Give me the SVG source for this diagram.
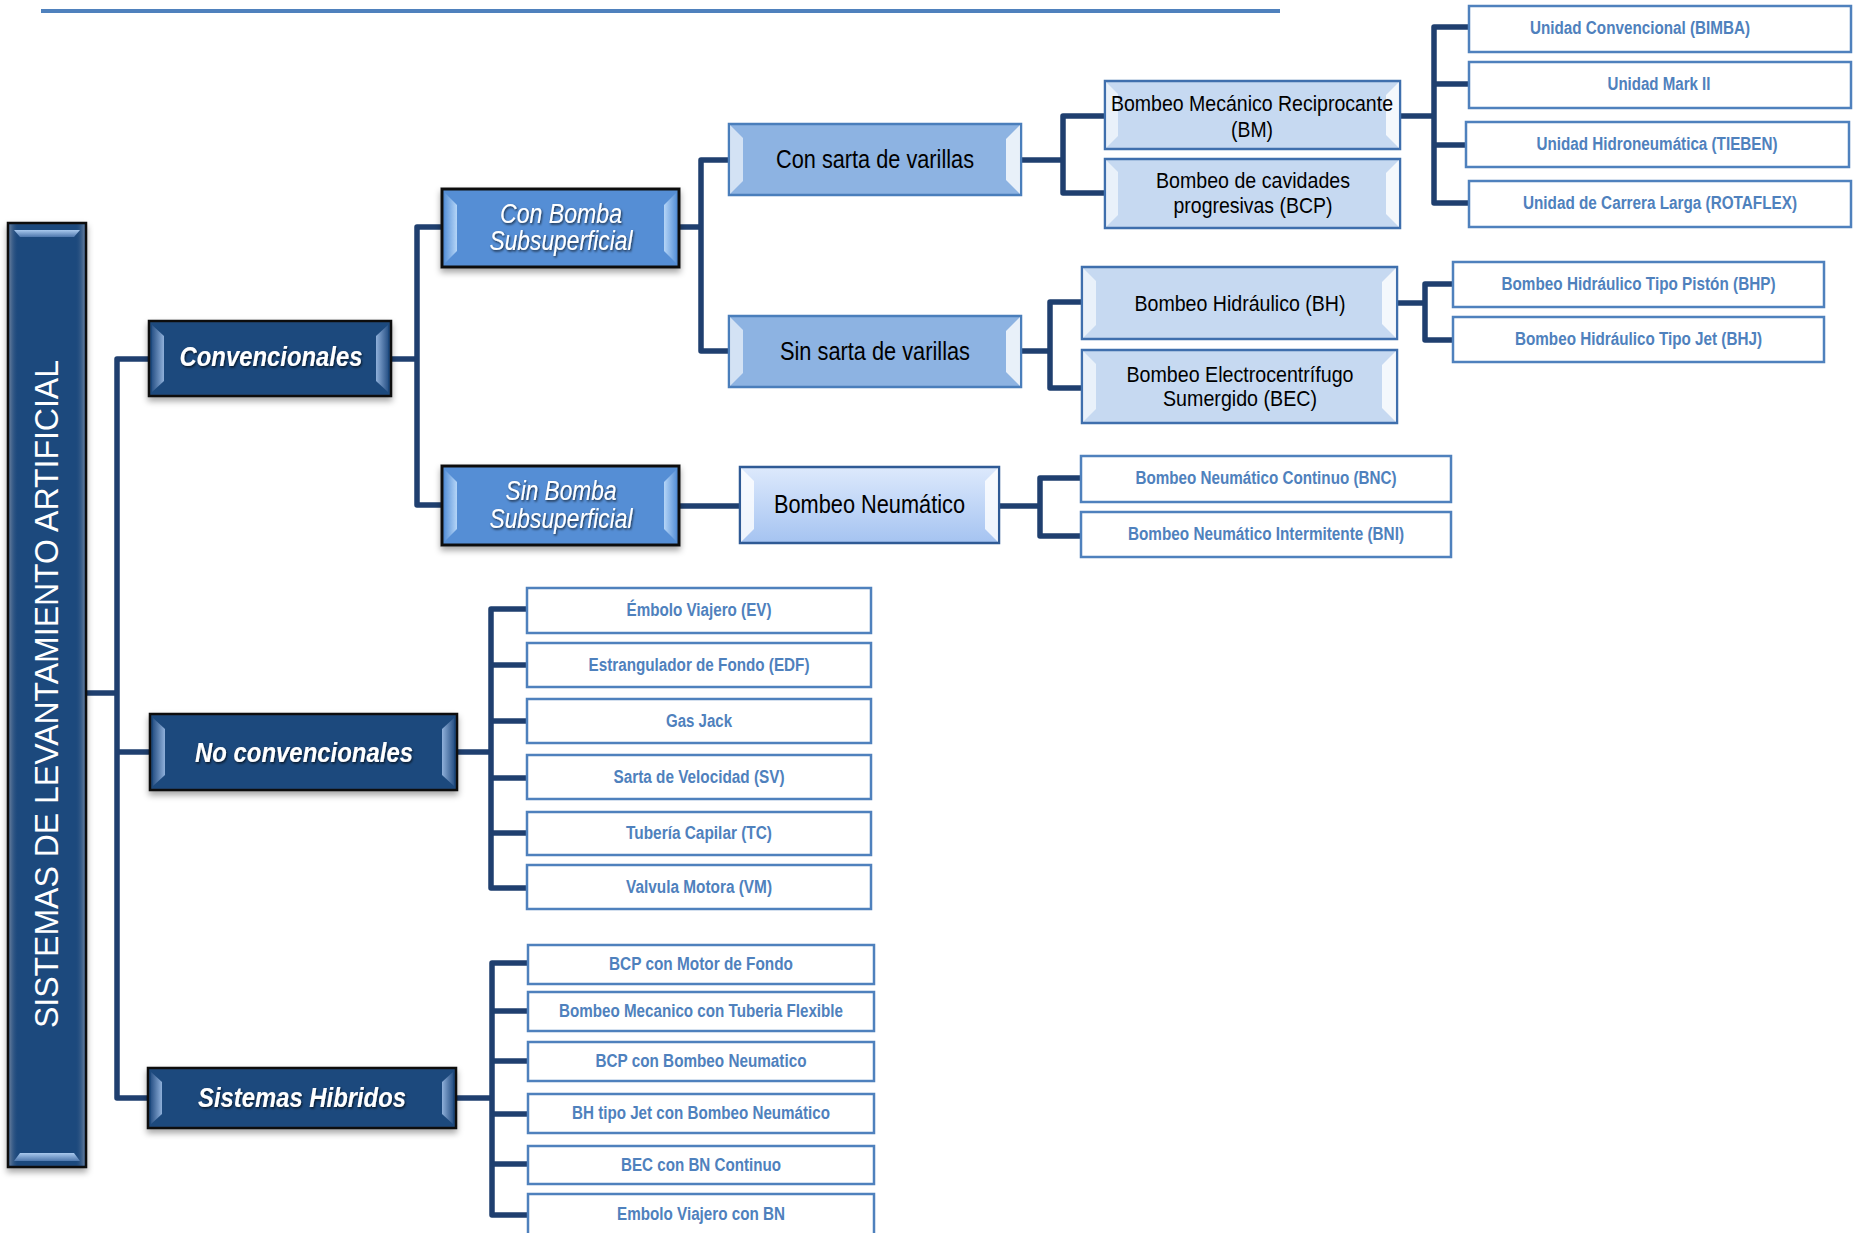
<svg xmlns="http://www.w3.org/2000/svg" width="1853" height="1233" viewBox="0 0 1853 1233">
<defs>
<style>
.nf{font-family:'Liberation Sans Narrow','Arial Narrow','Liberation Sans',Arial,sans-serif}
.conn path{fill:none;stroke:#1F3F6F;stroke-width:5.5;stroke-linejoin:round;stroke-linecap:butt}
.leaf rect{fill:#fff;stroke:#4F81BD;stroke-width:2.5}
.leaf text{font-family:'Liberation Sans Narrow','Arial Narrow','Liberation Sans',Arial,sans-serif;font-weight:bold;font-size:18px;fill:#4F81BD;text-anchor:middle}
.dark rect{fill:#1F497D;stroke:#111;stroke-width:2.5}
.dark text{font-family:'Liberation Sans Narrow','Arial Narrow','Liberation Sans',Arial,sans-serif;font-weight:bold;font-style:italic;font-size:28px;fill:#fff;text-anchor:middle}
.mid rect{fill:#558ED5;stroke:#111;stroke-width:3}
.mid text{font-family:'Liberation Sans Narrow','Arial Narrow','Liberation Sans',Arial,sans-serif;font-style:italic;font-size:27px;fill:#fff;text-anchor:middle}
.sarta rect{fill:#8DB3E2;stroke:#4A7EBB;stroke-width:2.5}
.sarta text{font-family:'Liberation Sans Narrow','Arial Narrow','Liberation Sans',Arial,sans-serif;font-size:26px;fill:#000;text-anchor:middle}
.pale rect{fill:#C6D9F1;stroke:#3F6FAD;stroke-width:2.5}
.pale text{font-family:'Liberation Sans Narrow','Arial Narrow','Liberation Sans',Arial,sans-serif;font-size:22.5px;fill:#000;text-anchor:middle}
.bn rect{fill:url(#gBN);stroke:#2F5A95;stroke-width:2.5}
.bn text{font-family:'Liberation Sans Narrow','Arial Narrow','Liberation Sans',Arial,sans-serif;font-size:25px;fill:#000;text-anchor:middle}
.fl{fill:url(#gFaceL)}
.fr{fill:url(#gFaceR)}
.wf{fill:#fff;opacity:0.62}
.wf2{fill:#fff;opacity:0.8}
.mfl{fill:url(#gMidL)}
.mfr{fill:url(#gMidR)}
</style>
<linearGradient id="gBN" x1="0" y1="0" x2="0" y2="1">
<stop offset="0" stop-color="#DDE9FC"/>
<stop offset="1" stop-color="#A5C3F1"/>
</linearGradient>
<linearGradient id="gFaceL" x1="0" y1="0" x2="1" y2="0">
<stop offset="0" stop-color="#2B5488"/>
<stop offset="1" stop-color="#8FB0DA"/>
</linearGradient>
<linearGradient id="gFaceR" x1="0" y1="0" x2="1" y2="0">
<stop offset="0" stop-color="#8FB0DA"/>
<stop offset="1" stop-color="#2B5488"/>
</linearGradient>
<linearGradient id="gMidL" x1="0" y1="0" x2="1" y2="0">
<stop offset="0" stop-color="#5E96DA"/>
<stop offset="1" stop-color="#B5D5F7"/>
</linearGradient>
<linearGradient id="gMidR" x1="0" y1="0" x2="1" y2="0">
<stop offset="0" stop-color="#B5D5F7"/>
<stop offset="1" stop-color="#5E96DA"/>
</linearGradient>
<linearGradient id="gTop" x1="0" y1="0" x2="0" y2="1">
<stop offset="0" stop-color="#A9C9EE"/>
<stop offset="1" stop-color="#4F78AD"/>
</linearGradient>
<linearGradient id="gRootEdge" x1="0" y1="0" x2="1" y2="0">
<stop offset="0" stop-color="#7F8FA6" stop-opacity="0.7"/>
<stop offset="0.12" stop-color="#1F497D" stop-opacity="0"/>
<stop offset="0.88" stop-color="#1F497D" stop-opacity="0"/>
<stop offset="1" stop-color="#7F8FA6" stop-opacity="0.7"/>
</linearGradient>
<filter id="shadow" x="-10%" y="-10%" width="120%" height="130%">
<feDropShadow dx="0" dy="4" stdDeviation="3" flood-color="#000" flood-opacity="0.35"/>
</filter>
<filter id="tshadow" x="-5%" y="-20%" width="110%" height="150%">
<feDropShadow dx="1" dy="1.5" stdDeviation="0.8" flood-color="#000" flood-opacity="0.7"/>
</filter>
</defs>

<rect x="0" y="0" width="1853" height="1233" fill="#fff"/>
<line x1="41" y1="11" x2="1280" y2="11" stroke="#4F81BD" stroke-width="4"/>

<g class="conn" id="connectors">
<path d="M85,693 H117"/>
<path d="M150,359 H117 V1098 H148"/>
<path d="M117,752 H150"/>
<path d="M391,359 H417"/>
<path d="M442,227 H417 V505 H442"/>
<path d="M679,227 H701"/>
<path d="M729,160 H701 V351 H729"/>
<path d="M1021,160 H1063"/>
<path d="M1105,116 H1063 V193 H1105"/>
<path d="M1021,351 H1050"/>
<path d="M1082,302 H1050 V388 H1082"/>
<path d="M1400,116 H1434"/>
<path d="M1469,27 H1434 V203 H1469"/>
<path d="M1434,84 H1469"/>
<path d="M1434,145 H1466"/>
<path d="M1397,303 H1425"/>
<path d="M1453,284 H1425 V340 H1453"/>
<path d="M679,506 H740"/>
<path d="M999,506 H1040"/>
<path d="M1081,478 H1040 V536 H1081"/>
<path d="M457,752 H491"/>
<path d="M527,609 H491 V888 H527"/>
<path d="M491,665 H527"/>
<path d="M491,721 H527"/>
<path d="M491,778 H527"/>
<path d="M491,833 H527"/>
<path d="M456,1098 H492"/>
<path d="M528,963 H492 V1215 H528"/>
<path d="M492,1011 H528"/>
<path d="M492,1061 H528"/>
<path d="M492,1114 H528"/>
<path d="M492,1164 H528"/>
</g>

<g id="root">
<rect x="8" y="223" width="78" height="944" fill="#1F497D" stroke="#111" stroke-width="2.5" filter="url(#shadow)"/>
<rect x="9.5" y="224.5" width="75" height="941" fill="url(#gRootEdge)"/>
<polygon points="14,230 80,230 74,237 20,237" fill="url(#gTop)"/>
<polygon points="20,1153 74,1153 80,1161 14,1161" fill="url(#gTop)"/>
<text class="nf" transform="translate(58,694) rotate(-90)" font-size="34" fill="#fff" text-anchor="middle" textLength="668" lengthAdjust="spacingAndGlyphs">SISTEMAS DE LEVANTAMIENTO ARTIFICIAL</text>
</g>

<g id="convencionales" class="dark">
<rect x="149" y="321" width="242" height="75" filter="url(#shadow)"/>
<polygon class="fl" points="152,325 164,336 164,381 152,392"/>
<polygon class="fr" points="388,325 376,336 376,381 388,392"/>
<text x="271" y="366" textLength="183" lengthAdjust="spacingAndGlyphs" filter="url(#tshadow)">Convencionales</text>
</g>

<g id="no-convencionales" class="dark">
<rect x="150" y="714" width="307" height="76" filter="url(#shadow)"/>
<polygon class="fl" points="153,718 165,729 165,775 153,786"/>
<polygon class="fr" points="454,718 442,729 442,775 454,786"/>
<text x="304" y="762" textLength="218" lengthAdjust="spacingAndGlyphs" filter="url(#tshadow)">No convencionales</text>
</g>

<g id="sistemas-hibridos" class="dark">
<rect x="148" y="1068" width="308" height="60" filter="url(#shadow)"/>
<polygon class="fl" points="151,1072 162,1082 162,1114 151,1124"/>
<polygon class="fr" points="453,1072 442,1082 442,1114 453,1124"/>
<text x="302" y="1107" textLength="208" lengthAdjust="spacingAndGlyphs" filter="url(#tshadow)">Sistemas Hibridos</text>
</g>

<g id="con-bomba" class="mid">
<rect x="442" y="189" width="237" height="78" filter="url(#shadow)"/>
<polygon class="mfl" points="445,193 457,205 457,251 445,263"/>
<polygon class="mfr" points="676,193 664,205 664,251 676,263"/>
<text x="561" y="223" textLength="122" lengthAdjust="spacingAndGlyphs" filter="url(#tshadow)">Con Bomba</text>
<text x="561" y="250" textLength="143" lengthAdjust="spacingAndGlyphs" filter="url(#tshadow)">Subsuperficial</text>
</g>

<g id="sin-bomba" class="mid">
<rect x="442" y="466" width="237" height="79" filter="url(#shadow)"/>
<polygon class="mfl" points="445,470 457,482 457,529 445,541"/>
<polygon class="mfr" points="676,470 664,482 664,529 676,541"/>
<text x="561" y="500" textLength="111" lengthAdjust="spacingAndGlyphs" filter="url(#tshadow)">Sin Bomba</text>
<text x="561" y="528" textLength="143" lengthAdjust="spacingAndGlyphs" filter="url(#tshadow)">Subsuperficial</text>
</g>

<g id="con-sarta" class="sarta">
<rect x="729" y="124" width="292" height="71"/>
<polygon class="wf" points="730,125 743,138 743,181 730,194"/>
<polygon class="wf2" points="1020,125 1006,139 1006,180 1020,194"/>
<text x="875" y="168" textLength="198" lengthAdjust="spacingAndGlyphs">Con sarta de varillas</text>
</g>

<g id="sin-sarta" class="sarta">
<rect x="729" y="316" width="292" height="71"/>
<polygon class="wf" points="730,317 743,330 743,373 730,386"/>
<polygon class="wf2" points="1020,317 1006,331 1006,372 1020,386"/>
<text x="875" y="360" textLength="190" lengthAdjust="spacingAndGlyphs">Sin sarta de varillas</text>
</g>

<g id="bm" class="pale">
<rect x="1105" y="81" width="295" height="68"/>
<polygon class="wf" points="1106,82 1118,94 1118,136 1106,148"/>
<polygon class="wf2" points="1399,82 1386,95 1386,135 1399,148"/>
<text x="1252" y="111" textLength="282" lengthAdjust="spacingAndGlyphs">Bombeo Mecánico Reciprocante</text>
<text x="1252" y="136.5" textLength="42" lengthAdjust="spacingAndGlyphs">(BM)</text>
</g>

<g id="bcp" class="pale">
<rect x="1105" y="159" width="295" height="69"/>
<polygon class="wf" points="1106,160 1118,172 1118,215 1106,227"/>
<polygon class="wf2" points="1399,160 1386,173 1386,214 1399,227"/>
<text x="1253" y="187.5" textLength="194" lengthAdjust="spacingAndGlyphs">Bombeo de cavidades</text>
<text x="1253" y="212.5" textLength="159" lengthAdjust="spacingAndGlyphs">progresivas (BCP)</text>
</g>

<g id="bh" class="pale">
<rect x="1082" y="267" width="315" height="72"/>
<polygon class="wf" points="1083,268 1096,281 1096,325 1083,338"/>
<polygon class="wf2" points="1396,268 1382,282 1382,324 1396,338"/>
<text x="1240" y="310.5" textLength="211" lengthAdjust="spacingAndGlyphs">Bombeo Hidráulico (BH)</text>
</g>

<g id="bec" class="pale">
<rect x="1082" y="350" width="315" height="73"/>
<polygon class="wf" points="1083,351 1096,364 1096,409 1083,422"/>
<polygon class="wf2" points="1396,351 1382,365 1382,408 1396,422"/>
<text x="1240" y="381.5" textLength="227" lengthAdjust="spacingAndGlyphs">Bombeo Electrocentrífugo</text>
<text x="1240" y="405.5" textLength="154" lengthAdjust="spacingAndGlyphs">Sumergido (BEC)</text>
</g>

<g id="bombeo-neumatico" class="bn">
<rect x="740" y="467" width="259" height="76"/>
<polygon class="wf2" points="741,468 754,481 754,529 741,542"/>
<polygon class="wf2" points="998,468 985,481 985,529 998,542"/>
<text x="869.5" y="513" textLength="191" lengthAdjust="spacingAndGlyphs">Bombeo Neumático</text>
</g>

<g id="bimba" class="leaf"><rect x="1469" y="6" width="382" height="46"/><text x="1640" y="34" textLength="220" lengthAdjust="spacingAndGlyphs">Unidad Convencional (BIMBA)</text></g>
<g id="mark2" class="leaf"><rect x="1469" y="62" width="382" height="46"/><text x="1659" y="90" textLength="103" lengthAdjust="spacingAndGlyphs">Unidad Mark II</text></g>
<g id="tieben" class="leaf"><rect x="1466" y="122" width="383" height="45"/><text x="1657" y="150" textLength="241" lengthAdjust="spacingAndGlyphs">Unidad Hidroneumática (TIEBEN)</text></g>
<g id="rotaflex" class="leaf"><rect x="1469" y="181" width="382" height="46"/><text x="1660" y="209" textLength="274" lengthAdjust="spacingAndGlyphs">Unidad de Carrera Larga (ROTAFLEX)</text></g>

<g id="bhp" class="leaf"><rect x="1453" y="262" width="371" height="45"/><text x="1638.5" y="290" textLength="274" lengthAdjust="spacingAndGlyphs">Bombeo Hidráulico Tipo Pistón (BHP)</text></g>
<g id="bhj" class="leaf"><rect x="1453" y="317" width="371" height="45"/><text x="1638.5" y="345" textLength="247" lengthAdjust="spacingAndGlyphs">Bombeo Hidráulico Tipo Jet (BHJ)</text></g>

<g id="bnc" class="leaf"><rect x="1081" y="456" width="370" height="46"/><text x="1266" y="484" textLength="261" lengthAdjust="spacingAndGlyphs">Bombeo Neumático Continuo (BNC)</text></g>
<g id="bni" class="leaf"><rect x="1081" y="512" width="370" height="45"/><text x="1266" y="540" textLength="276" lengthAdjust="spacingAndGlyphs">Bombeo Neumático Intermitente (BNI)</text></g>

<g id="ev" class="leaf"><rect x="527" y="588" width="344" height="45"/><text x="699" y="616" textLength="145" lengthAdjust="spacingAndGlyphs">Émbolo Viajero (EV)</text></g>
<g id="edf" class="leaf"><rect x="527" y="643" width="344" height="44"/><text x="699" y="670.5" textLength="221" lengthAdjust="spacingAndGlyphs">Estrangulador de Fondo (EDF)</text></g>
<g id="gas-jack" class="leaf"><rect x="527" y="699" width="344" height="44"/><text x="699" y="726.5" textLength="66" lengthAdjust="spacingAndGlyphs">Gas Jack</text></g>
<g id="sv" class="leaf"><rect x="527" y="755" width="344" height="44"/><text x="699" y="782.5" textLength="171" lengthAdjust="spacingAndGlyphs">Sarta de Velocidad (SV)</text></g>
<g id="tc" class="leaf"><rect x="527" y="812" width="344" height="43"/><text x="699" y="839" textLength="146" lengthAdjust="spacingAndGlyphs">Tubería Capilar (TC)</text></g>
<g id="vm" class="leaf"><rect x="527" y="865" width="344" height="44"/><text x="699" y="892.5" textLength="146" lengthAdjust="spacingAndGlyphs">Valvula Motora (VM)</text></g>

<g id="bcp-motor" class="leaf"><rect x="528" y="945" width="346" height="39"/><text x="701" y="970" textLength="184" lengthAdjust="spacingAndGlyphs">BCP con Motor de Fondo</text></g>
<g id="bm-flex" class="leaf"><rect x="528" y="992" width="346" height="39"/><text x="701" y="1017" textLength="284" lengthAdjust="spacingAndGlyphs">Bombeo Mecanico con Tuberia Flexible</text></g>
<g id="bcp-bn" class="leaf"><rect x="528" y="1042" width="346" height="39"/><text x="701" y="1067" textLength="211" lengthAdjust="spacingAndGlyphs">BCP con Bombeo Neumatico</text></g>
<g id="bh-jet-bn" class="leaf"><rect x="528" y="1094" width="346" height="39"/><text x="701" y="1119" textLength="258" lengthAdjust="spacingAndGlyphs">BH tipo Jet con Bombeo Neumático</text></g>
<g id="bec-bn" class="leaf"><rect x="528" y="1146" width="346" height="38"/><text x="701" y="1170.5" textLength="160" lengthAdjust="spacingAndGlyphs">BEC con BN Continuo</text></g>
<g id="ev-bn" class="leaf"><rect x="528" y="1194" width="346" height="42"/><text x="701" y="1220" textLength="168" lengthAdjust="spacingAndGlyphs">Embolo Viajero con BN</text></g>
</svg>
